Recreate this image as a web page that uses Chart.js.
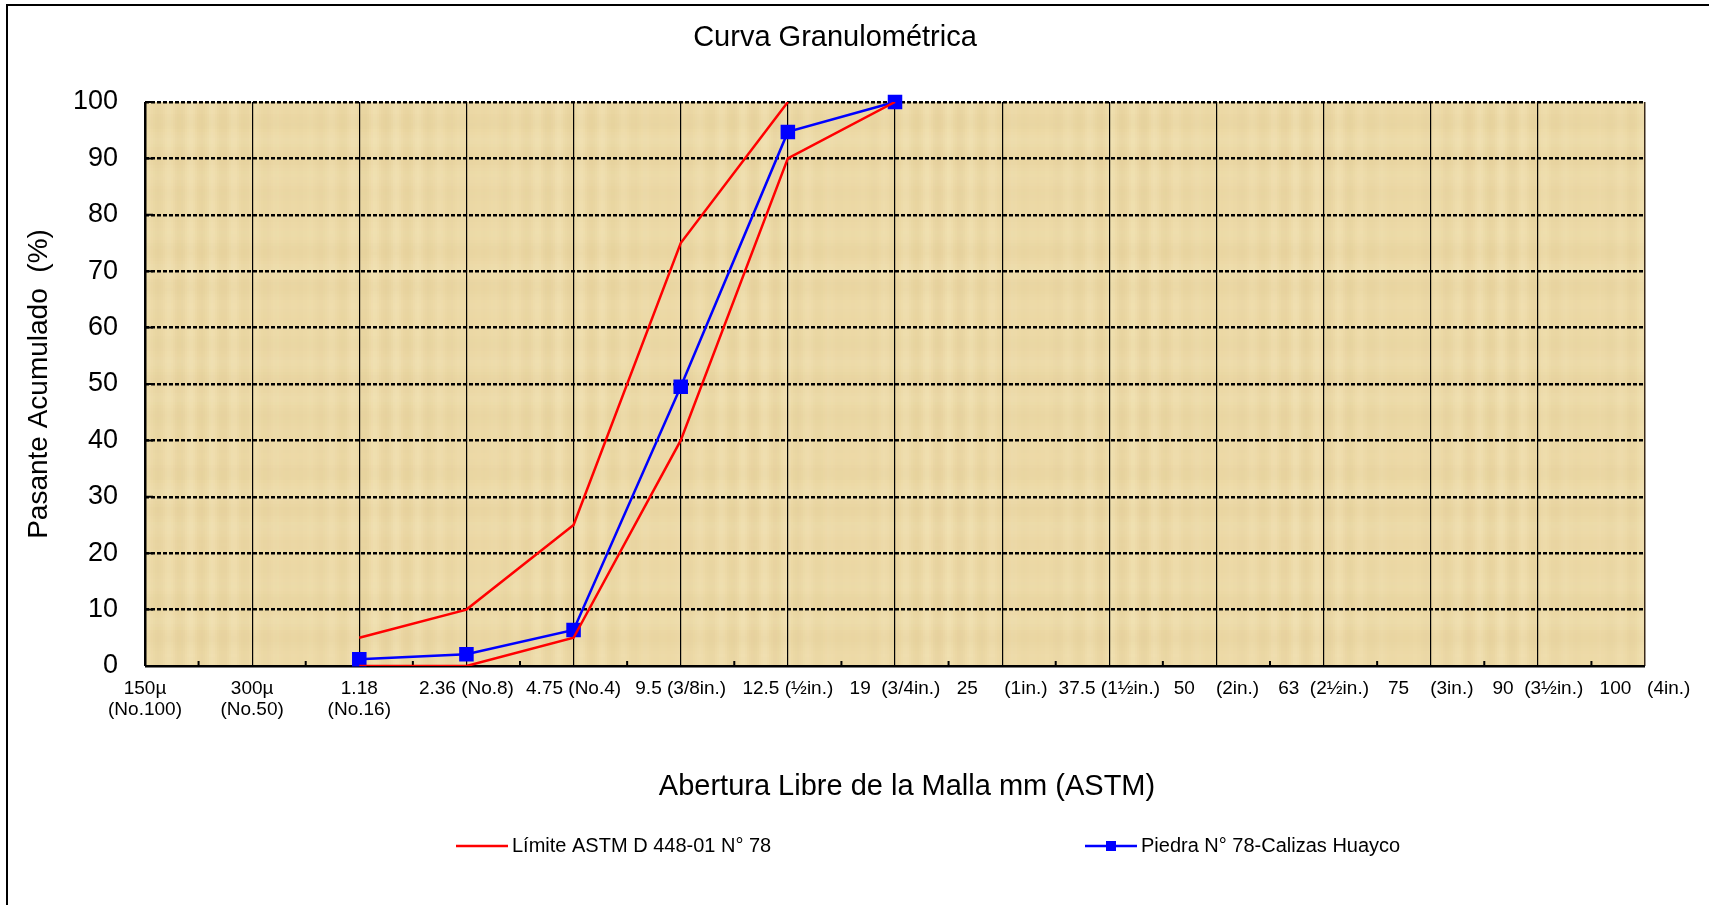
<!DOCTYPE html>
<html>
<head>
<meta charset="utf-8">
<title>Curva Granulométrica</title>
<script src="https://cdn.jsdelivr.net/npm/chart.js@4.4.1/dist/chart.umd.min.js"></script>
<style>
  body { margin: 0; background: #fff; }
  #wrap { width: 1709px; height: 905px; position: relative; }
</style>
</head>
<body>
<div id="wrap"><canvas id="granChart"></canvas></div>
<script>
// sieve openings (x categories)
const sieves = [
  ['150µ', '(No.100)'],
  ['300µ', '(No.50)'],
  ['1.18', '(No.16)'],
  '2.36 (No.8)',
  '4.75 (No.4)',
  '9.5 (3/8in.)',
  '12.5 (½in.)',
  '19  (3/4in.)',
  '25     (1in.)',
  '37.5 (1½in.)',
  '50    (2in.)',
  '63  (2½in.)',
  '75    (3in.)',
  '90  (3½in.)',
  '100   (4in.)'
];

// ASTM D 448 N° 78 band
const limiteInferior = [null, null, 0, 0, 5, 40, 90, 100, null, null, null, null, null, null, null];
const limiteSuperior = [null, null, 5, 10, 25, 75, 100, null, null, null, null, null, null, null, null];

// sample
const piedra78 = [null, null, 1.2, 2.1, 6.4, 49.5, 94.7, 100, null, null, null, null, null, null, null];

const yTicks = [0, 10, 20, 30, 40, 50, 60, 70, 80, 90, 100];

const FONT = 'Liberation Sans, Arial, sans-serif';
Chart.defaults.font.family = FONT;
Chart.defaults.color = '#000';

// parchment-ish background, white page and frame
const pagePlugin = {
  id: 'page',
  beforeDraw(chart) {
    const ctx = chart.ctx;
    const a = chart.chartArea;
    ctx.save();
    ctx.fillStyle = '#fff';
    ctx.fillRect(0, 0, chart.width, chart.height);

    ctx.fillStyle = '#ECD9A6';
    ctx.fillRect(a.left, a.top, a.right - a.left, a.bottom - a.top);
    // vertical streaks
    for (let x = a.left; x < a.right; x += 2) {
      const s = Math.sin(x * 0.29) * Math.sin(x * 0.017 + 1.3);
      ctx.fillStyle = s > 0 ? 'rgba(248,236,196,' + (0.3 * s) + ')' : 'rgba(205,180,120,' + (-0.12 * s) + ')';
      ctx.fillRect(x, a.top, 2, a.bottom - a.top);
    }
    // horizontal bands
    for (let y = a.top; y < a.bottom; y += 3) {
      const s = Math.sin(y * 0.17) * Math.sin(y * 0.027 + 0.7);
      ctx.fillStyle = s > 0 ? 'rgba(248,238,200,' + (0.14 * s) + ')' : 'rgba(200,170,110,' + (-0.07 * s) + ')';
      ctx.fillRect(a.left, y, a.right - a.left, 3);
    }

    // frame
    ctx.strokeStyle = '#000';
    ctx.lineWidth = 2;
    ctx.beginPath();
    ctx.moveTo(7, chart.height);
    ctx.lineTo(7, 5);
    ctx.lineTo(chart.width, 5);
    ctx.stroke();
    ctx.restore();
  }
};

// small inner ticks, titles and legend
const decoPlugin = {
  id: 'deco',
  beforeDatasetsDraw(chart) {
    const ctx = chart.ctx;
    const a = chart.chartArea;
    const xs = chart.scales.x;
    const ys = chart.scales.y;
    ctx.save();
    ctx.strokeStyle = '#000';
    ctx.lineWidth = 2;
    ctx.beginPath();
    for (let i = 0; i < sieves.length - 1; i++) {
      const px = (xs.getPixelForTick(i) + xs.getPixelForTick(i + 1)) / 2;
      ctx.moveTo(px, a.bottom);
      ctx.lineTo(px, a.bottom - 5);
    }
    yTicks.forEach(v => {
      const py = ys.getPixelForValue(v);
      ctx.moveTo(a.left, py);
      ctx.lineTo(a.left + 8, py);
    });
    ctx.stroke();
    ctx.restore();
  },
  afterDraw(chart) {
    const ctx = chart.ctx;
    ctx.save();
    ctx.fillStyle = '#000';
    ctx.textBaseline = 'middle';
    ctx.textAlign = 'center';
    ctx.font = '29px ' + FONT;
    ctx.fillText('Curva Granulométrica', 835, 38);
    ctx.fillText('Abertura Libre de la Malla mm (ASTM)', 907, 787);

    // legend
    const ly = 846;
    ctx.font = '20px ' + FONT;
    ctx.textAlign = 'left';
    ctx.lineWidth = 2.5;
    ctx.strokeStyle = '#FF0000';
    ctx.beginPath();
    ctx.moveTo(456, ly);
    ctx.lineTo(508, ly);
    ctx.stroke();
    ctx.fillText('Límite ASTM D 448-01 N° 78', 512, ly);

    ctx.strokeStyle = '#0000FF';
    ctx.beginPath();
    ctx.moveTo(1085, ly);
    ctx.lineTo(1137, ly);
    ctx.stroke();
    ctx.fillStyle = '#0000FF';
    ctx.fillRect(1106, ly - 5, 10, 10);
    ctx.fillStyle = '#000';
    ctx.fillText('Piedra N° 78-Calizas Huayco', 1141, ly);
    ctx.restore();
  }
};

const ctx = document.getElementById('granChart').getContext('2d');

new Chart(ctx, {
  type: 'line',
  data: {
    labels: sieves,
    datasets: [
      {
        label: 'Límite ASTM D 448-01 N° 78',
        data: limiteSuperior,
        borderColor: '#FF0000',
        borderWidth: 2.5,
        pointRadius: 0,
        tension: 0
      },
      {
        label: 'Límite ASTM D 448-01 N° 78 (inf)',
        data: limiteInferior,
        borderColor: '#FF0000',
        borderWidth: 2.5,
        pointRadius: 0,
        tension: 0
      },
      {
        label: 'Piedra N° 78-Calizas Huayco',
        data: piedra78,
        borderColor: '#0000FF',
        backgroundColor: '#0000FF',
        borderWidth: 2.5,
        pointStyle: 'rect',
        pointRadius: 8.5,
        pointHoverRadius: 8.5,
        tension: 0,
        clip: false
      }
    ]
  },
  options: {
    responsive: true,
    maintainAspectRatio: false,
    animation: false,
    layout: {
      padding: { left: 18, right: 64, top: 102, bottom: 97.2 }
    },
    plugins: {
      legend: { display: false },
      title: { display: false },
      tooltip: { enabled: false }
    },
    scales: {
      x: {
        type: 'category',
        offset: false,
        afterFit(scale) { scale.height = 141.8; },
        grid: {
          drawTicks: false,
          color: ctx => ctx.index === sieves.length - 1 ? '#3a2a1a' : '#000',
          lineWidth: ctx => ctx.index === 0 ? 2.5 : (ctx.index === sieves.length - 1 ? 1.5 : 1.2)
        },
        border: { display: false },
        ticks: {
          autoSkip: false,
          maxRotation: 0,
          minRotation: 0,
          padding: 12.5,
          color: '#000',
          font: { size: 19, lineHeight: 1.1 }
        }
      },
      y: {
        min: 0,
        max: 100,
        afterFit(scale) { scale.width = 127; },
        afterBuildTicks(scale) { scale.ticks = yTicks.map(v => ({ value: v })); },
        grid: {
          drawTicks: false,
          color: '#000',
          lineWidth: 2.5
        },
        border: {
          display: false,
          dash: ctx => ctx.tick && ctx.tick.value === 0 ? [] : [4, 2]
        },
        ticks: {
          padding: 27,
          color: '#000',
          font: { size: 27 }
        },
        title: {
          display: true,
          text: 'Pasante Acumulado  (%)',
          color: '#000',
          font: { size: 28 },
          padding: { top: 4, bottom: 17 }
        }
      }
    }
  },
  plugins: [pagePlugin, decoPlugin]
});
</script>
</body>
</html>
